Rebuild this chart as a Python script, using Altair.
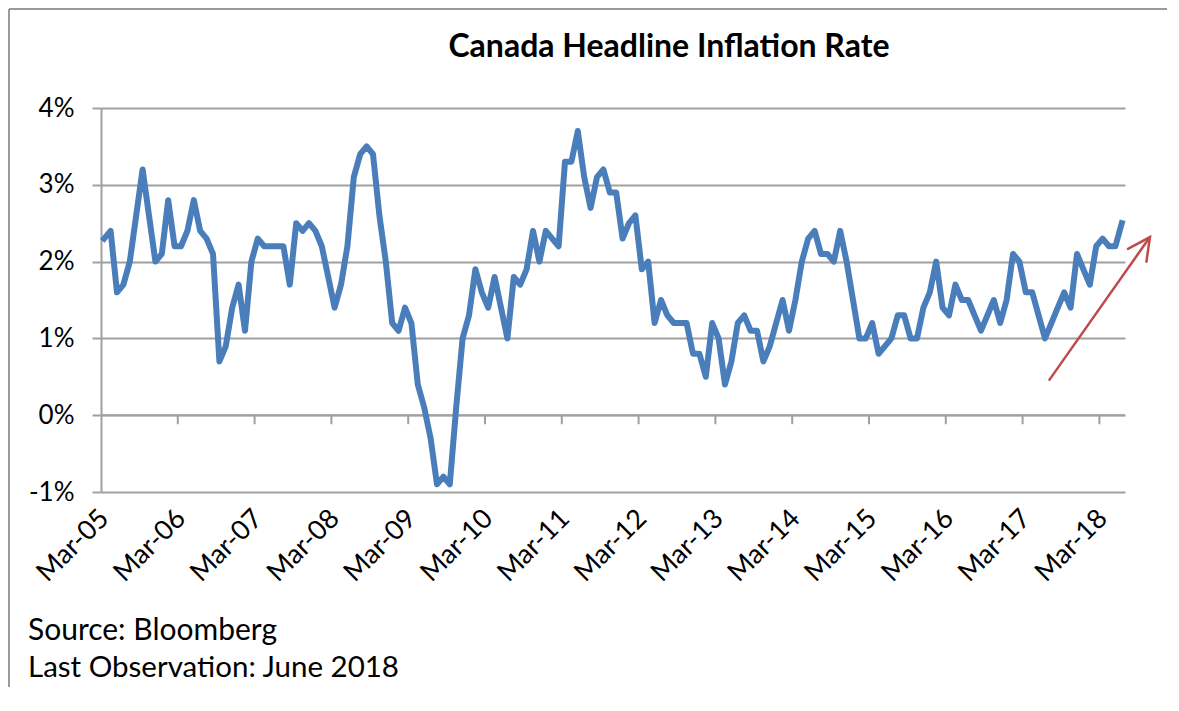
import altair as alt
import pandas as pd

# Canada CPI y/y %, monthly, Mar-2005 .. Jun-2018
cpi = [
    2.3, 2.4, 1.6, 1.7, 2.0, 2.6, 3.2, 2.6, 2.0, 2.1,
    2.8, 2.2, 2.2, 2.4, 2.8, 2.4, 2.3, 2.1, 0.7, 0.9, 1.4, 1.7,
    1.1, 2.0, 2.3, 2.2, 2.2, 2.2, 2.2, 1.7, 2.5, 2.4, 2.5, 2.4,
    2.2, 1.8, 1.4, 1.7, 2.2, 3.1, 3.4, 3.5, 3.4, 2.6, 2.0, 1.2,
    1.1, 1.4, 1.2, 0.4, 0.1, -0.3, -0.9, -0.8, -0.9, 0.1, 1.0, 1.3,
    1.9, 1.6, 1.4, 1.8, 1.4, 1.0, 1.8, 1.7, 1.9, 2.4, 2.0, 2.4,
    2.3, 2.2, 3.3, 3.3, 3.7, 3.1, 2.7, 3.1, 3.2, 2.9, 2.9, 2.3,
    2.5, 2.6, 1.9, 2.0, 1.2, 1.5, 1.3, 1.2, 1.2, 1.2, 0.8, 0.8,
    0.5, 1.2, 1.0, 0.4, 0.7, 1.2, 1.3, 1.1, 1.1, 0.7, 0.9, 1.2,
    1.5, 1.1, 1.5, 2.0, 2.3, 2.4, 2.1, 2.1, 2.0, 2.4, 2.0, 1.5,
    1.0, 1.0, 1.2, 0.8, 0.9, 1.0, 1.3, 1.3, 1.0, 1.0, 1.4, 1.6,
    2.0, 1.4, 1.3, 1.7, 1.5, 1.5, 1.3, 1.1, 1.3, 1.5, 1.2, 1.5,
    2.1, 2.0, 1.6, 1.6, 1.3, 1.0, 1.2, 1.4, 1.6, 1.4, 2.1, 1.9,
    1.7, 2.2, 2.3, 2.2, 2.2, 2.5,
]
x_labels = ["Mar-05", "Mar-06", "Mar-07", "Mar-08", "Mar-09", "Mar-10", "Mar-11",
            "Mar-12", "Mar-13", "Mar-14", "Mar-15", "Mar-16", "Mar-17", "Mar-18"]
y_ticks = [-1, 0, 1, 2, 3, 4]
title_text = "Canada Headline Inflation Rate"
notes = ["Source: Bloomberg", "Last Observation: June 2018"]
# trend arrow (month index, %)
arrow_x = [147.6, 163.4]
arrow_y = [0.45, 2.32]

FONT = "Lato"
GRAY = "#a0a0a0"
BLUE = "#4A7EBB"
RED = "#BE4B48"

n = len(cpi)
df = pd.DataFrame({"idx": list(range(n)), "cpi": cpi})
label_idx = [i * 12 for i in range(len(x_labels))]
label_js = "[" + ",".join("'%s'" % s for s in x_labels) + "][datum.value / 12]"
tick_df = pd.DataFrame({"b": [i * 12 - 0.5 for i in range(1, len(x_labels))]})

xscale = alt.Scale(domain=[-0.5, n - 0.5], nice=False, zero=False)
yscale = alt.Scale(domain=[y_ticks[0], y_ticks[-1]], nice=False, zero=False)

line = alt.Chart(df).mark_line(
    color=BLUE, strokeWidth=6, strokeJoin="round", strokeCap="square"
).encode(
    x=alt.X("idx:Q", scale=xscale, axis=alt.Axis(
        values=label_idx, labelExpr=label_js, labelAngle=-45, labelAlign="right",
        labelBaseline="middle", labelFontSize=27, labelPadding=22, domain=False,
        ticks=False, grid=False, title=None, labelOverlap=False)),
    y=alt.Y("cpi:Q", scale=yscale, axis=alt.Axis(
        values=y_ticks, labelExpr="datum.value + '%'", labelFontSize=26,
        tickSize=9, tickColor=GRAY, tickWidth=2, domainColor=GRAY, domainWidth=2,
        gridColor=GRAY, gridWidth=2, labelPadding=18, title=None)),
)

zero_line = alt.Chart(pd.DataFrame({"z": [0]})).mark_rule(
    color=GRAY, strokeWidth=2).encode(y=alt.Y("z:Q", scale=yscale))

xticks = alt.Chart(tick_df).mark_rule(color=GRAY, strokeWidth=2, y2Offset=9).encode(
    x=alt.X("b:Q", scale=xscale), y=alt.datum(0), y2=alt.datum(0))

arrow_df = pd.DataFrame({"x1": [arrow_x[0]], "x2": [arrow_x[1]],
                         "y1": [arrow_y[0]], "y2": [arrow_y[1]]})
shaft = alt.Chart(arrow_df).mark_rule(color=RED, strokeWidth=2.5).encode(
    x=alt.X("x1:Q", scale=xscale), x2="x2:Q",
    y=alt.Y("y1:Q", scale=yscale), y2="y2:Q")
head = alt.Chart(arrow_df).mark_point(
    shape="M -0.45 0.89 L 0 0 L 0.45 0.89", filled=False, size=2500, angle=35,
    strokeWidth=2.5, color=RED, opacity=1, strokeCap="round", strokeJoin="miter"
).encode(x=alt.X("x2:Q", scale=xscale), y=alt.Y("y2:Q", scale=yscale))

one = pd.DataFrame({"a": [0]})
border_left = alt.Chart(one).mark_rule(color="#9a9a9a", strokeWidth=2).encode(
    x=alt.value(-92), x2=alt.value(-92), y=alt.value(-99), y2=alt.value(590))
border_top = alt.Chart(one).mark_rule(color="#9a9a9a", strokeWidth=2).encode(
    x=alt.value(-92), x2=alt.value(1066), y=alt.value(-99), y2=alt.value(-99))

title = alt.Chart(pd.DataFrame({"t": [title_text]})).mark_text(
    align="center", baseline="alphabetic", font=FONT, fontSize=32,
    fontWeight="bold", color="#000"
).encode(text="t:N", x=alt.value(568), y=alt.value(-51))

note1 = alt.Chart(pd.DataFrame({"t": [notes[0]]})).mark_text(
    align="left", baseline="alphabetic", font=FONT, fontSize=30, color="#000"
).encode(text="t:N", x=alt.value(-73), y=alt.value(532))
note2 = alt.Chart(pd.DataFrame({"t": [notes[1]]})).mark_text(
    align="left", baseline="alphabetic", font=FONT, fontSize=29.5, color="#000"
).encode(text="t:N", x=alt.value(-73), y=alt.value(569))

chart = alt.layer(
    border_left, border_top, zero_line, xticks, line, shaft, head,
    title, note1, note2
).properties(
    width=1024, height=384,
    padding={"left": 93, "top": 100, "right": 42, "bottom": 195},
    autosize=alt.AutoSizeParams(type="none"),
).configure_view(stroke=None).configure_axis(
    labelFont=FONT, labelColor="#000"
)

chart.save("out.html", embed_options={"renderer": "svg", "actions": False})
